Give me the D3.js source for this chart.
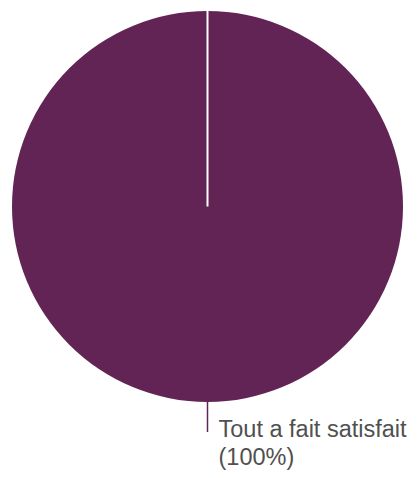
<!DOCTYPE html>
<html><head><meta charset="utf-8">
<script src="https://cdn.jsdelivr.net/npm/d3@7"></script>
<style>html,body{margin:0;padding:0;background:#fff;}svg{display:block;}</style>
</head><body>
<svg id="chart" width="417" height="478"></svg>
<script>
const categories = ["Tout a fait satisfait"];
const values = [100];
const percentLabels = ["(100%)"];
const colors = ["#622455"];

const svg = d3.select("#chart");
const cx = 207.5, cy = 206.5, r = 195.5;
const g = svg.append("g").attr("transform", `translate(${cx},${cy})`);
const data = categories.map((c, i) => ({cat: c, value: values[i], pct: percentLabels[i], color: colors[i]}));
const pie = d3.pie().value(d => d.value).sort(null);
const arcs = pie(data);
const arc = d3.arc().innerRadius(0).outerRadius(r);

g.selectAll("path").data(arcs).enter().append("path")
  .attr("d", arc).attr("fill", d => d.data.color);

// slice border line (start edge at 12 o'clock)
g.selectAll("line.edge").data(arcs).enter().append("line")
  .attr("class", "edge")
  .attr("x1", 0).attr("y1", 0)
  .attr("x2", d => r * Math.sin(d.startAngle))
  .attr("y2", d => -r * Math.cos(d.startAngle))
  .attr("stroke", "#fff").attr("stroke-width", 2);

// label leader line at slice mid angle
arcs.forEach(d => {
  const a = (d.startAngle + d.endAngle) / 2;
  const x0 = r * Math.sin(a), y0 = -r * Math.cos(a);
  const x1 = (r + 30) * Math.sin(a), y1 = -(r + 30) * Math.cos(a);
  g.append("line").attr("x1", x0).attr("y1", y0).attr("x2", x1).attr("y2", y1)
    .attr("stroke", d.data.color).attr("stroke-width", 1.5);
  const t = g.append("text").attr("x", x1 + 11).attr("y", y0 + 35)
    .attr("font-family", "Liberation Sans, Arial, sans-serif")
    .attr("font-size", 23.5).attr("fill", "#505050");
  t.append("tspan").attr("x", x1 + 11).attr("dy", 0).text(d.data.cat);
  t.append("tspan").attr("x", x1 + 11).attr("dy", 28).text(d.data.pct);
});
</script>
</body></html>
